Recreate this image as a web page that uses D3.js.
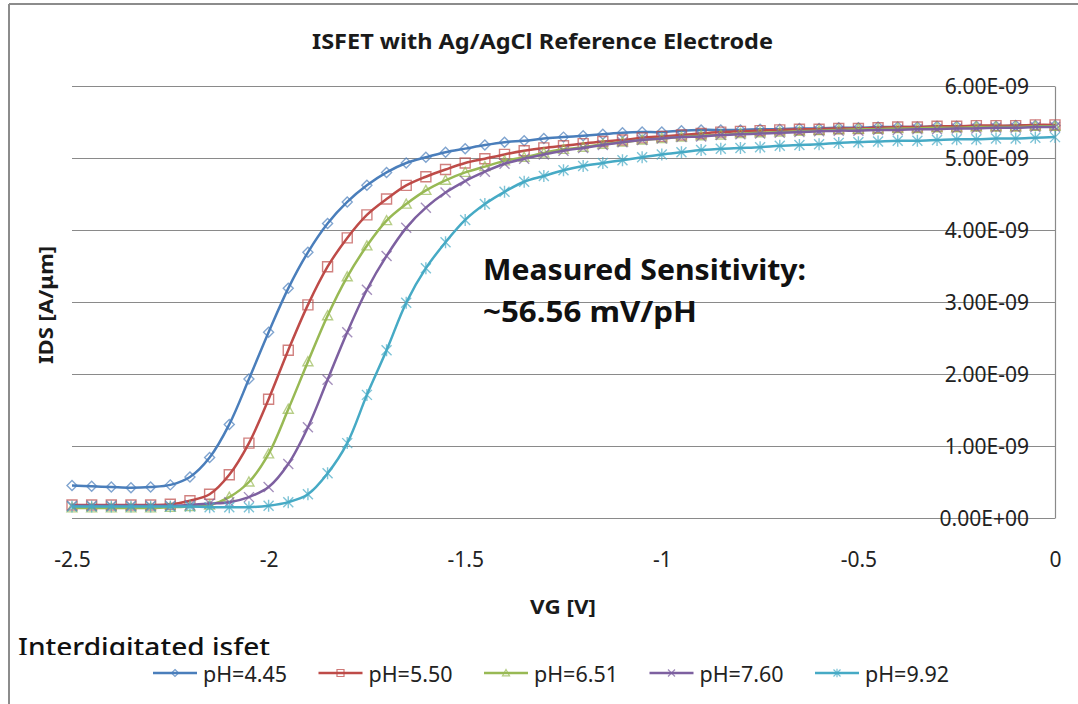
<!DOCTYPE html>
<html>
<head>
<meta charset="utf-8">
<script src="https://cdn.jsdelivr.net/npm/d3@7"></script>
<style>
  html, body { margin: 0; padding: 0; background: #fff; }
  svg { display: block; font-family: "Noto Sans", "Open Sans", sans-serif; }
</style>
</head>
<body>
<svg id="chart" width="1078" height="704"></svg>
<script>
// ---------- data ----------
const vgStart = -2.5, vgStep = 0.05;
const seriesNames = ["pH=4.45", "pH=5.50", "pH=6.51", "pH=7.60", "pH=9.92"];
const seriesColors = ["#4A7EBB", "#BE4B48", "#98B954", "#7D60A0", "#46AAC5"];
const seriesMarkers = ["diamond", "square", "triangle", "x", "star"];

// IDS values in units of 1e-9 A/um, VG from -2.5 to 0 in 0.05 V steps
const ids_pH445 = [0.45,0.44,0.43,0.42,0.43,0.46,0.57,0.84,1.30,1.93,2.58,3.19,3.69,4.09,4.39,4.62,4.80,4.93,5.01,5.08,5.13,5.18,5.22,5.24,5.27,5.29,5.31,5.33,5.35,5.36,5.36,5.38,5.39,5.39,5.39,5.40,5.40,5.41,5.41,5.42,5.42,5.43,5.43,5.43,5.44,5.44,5.44,5.44,5.45,5.45,5.45];
const ids_pH550 = [0.18,0.18,0.18,0.18,0.18,0.19,0.24,0.33,0.60,1.04,1.65,2.33,2.96,3.49,3.89,4.21,4.43,4.62,4.74,4.84,4.93,4.99,5.05,5.10,5.14,5.17,5.20,5.23,5.25,5.28,5.30,5.32,5.34,5.36,5.37,5.38,5.39,5.40,5.40,5.41,5.41,5.42,5.43,5.43,5.44,5.44,5.45,5.45,5.45,5.46,5.46];
const ids_pH651 = [0.14,0.14,0.14,0.14,0.14,0.15,0.16,0.18,0.29,0.50,0.89,1.51,2.17,2.81,3.35,3.78,4.13,4.36,4.55,4.69,4.80,4.88,4.96,5.01,5.07,5.12,5.15,5.19,5.22,5.25,5.27,5.29,5.31,5.32,5.34,5.35,5.36,5.37,5.38,5.39,5.40,5.40,5.41,5.41,5.42,5.42,5.43,5.43,5.43,5.44,5.44];
const ids_pH760 = [0.17,0.17,0.17,0.17,0.17,0.17,0.18,0.20,0.22,0.29,0.43,0.75,1.26,1.92,2.58,3.17,3.64,4.03,4.31,4.52,4.68,4.81,4.92,4.99,5.05,5.10,5.14,5.18,5.22,5.25,5.27,5.29,5.30,5.32,5.33,5.34,5.35,5.36,5.37,5.38,5.38,5.39,5.39,5.40,5.40,5.41,5.41,5.42,5.42,5.43,5.43];
const ids_pH992 = [0.16,0.16,0.16,0.16,0.16,0.16,0.16,0.15,0.15,0.15,0.17,0.22,0.33,0.62,1.04,1.71,2.33,2.99,3.47,3.83,4.14,4.36,4.53,4.67,4.75,4.83,4.89,4.93,4.97,5.01,5.05,5.08,5.11,5.13,5.14,5.15,5.17,5.18,5.19,5.21,5.22,5.23,5.24,5.24,5.25,5.26,5.26,5.27,5.27,5.28,5.29];
const allSeries = [ids_pH445, ids_pH550, ids_pH651, ids_pH760, ids_pH992];

const xTickValues = [-2.5, -2, -1.5, -1, -0.5, 0];
const xTickLabels = ["-2.5", "-2", "-1.5", "-1", "-0.5", "0"];
const yTickValues = [0, 1e-9, 2e-9, 3e-9, 4e-9, 5e-9, 6e-9];
const yTickLabels = ["0.00E+00", "1.00E-09", "2.00E-09", "3.00E-09", "4.00E-09", "5.00E-09", "6.00E-09"];

const titleText = "ISFET with Ag/AgCl Reference Electrode";
const xTitle = "VG [V]";
const yTitle = "IDS [A/\u03bcm]";
const noteLine1 = "Measured Sensitivity:";
const noteLine2 = "~56.56 mV/pH";
const extraLabel = "Interdigitated isfet";

// ---------- layout ----------
const svg = d3.select("#chart");
const plot = { left: 72, right: 1055, top: 86, bottom: 518 };
const x = d3.scaleLinear().domain([-2.5, 0]).range([plot.left, plot.right]);
const y = d3.scaleLinear().domain([0, 6e-9]).range([plot.bottom, plot.top]);
const gridColor = "#8a8a8a";

// chart border (top and left visible)
svg.append("line").attr("x1", 9).attr("x2", 1078).attr("y1", 4).attr("y2", 4)
  .attr("stroke", "#8c8c8c").attr("stroke-width", 2);
svg.append("line").attr("x1", 9).attr("x2", 9).attr("y1", 4).attr("y2", 704)
  .attr("stroke", "#8c8c8c").attr("stroke-width", 2);

// title
svg.append("text").attr("x", 312).attr("y", 49)
  .attr("font-weight", "bold").attr("font-size", 21).attr("fill", "#1a1a1a")
  .attr("textLength", 461).attr("lengthAdjust", "spacingAndGlyphs").text(titleText);

// gridlines + right axis line via axisLeft
const grid = svg.append("g").attr("transform", `translate(${plot.right},0)`)
  .call(d3.axisLeft(y).tickValues(yTickValues).tickSize(plot.right - plot.left).tickSizeOuter(0).tickFormat(""));
grid.selectAll("line").attr("stroke", gridColor).attr("stroke-width", 1.2);
grid.select(".domain").attr("stroke", gridColor).attr("stroke-width", 1.2);

// y tick labels (placed left of the axis, over the gridlines)
const yLab = svg.append("g").attr("transform", `translate(${plot.right - 26},0)`)
  .call(d3.axisLeft(y).tickValues(yTickValues).tickSize(0).tickPadding(0)
    .tickFormat((d, i) => yTickLabels[i]));
yLab.select(".domain").remove();
yLab.selectAll("text").attr("font-size", 21).attr("font-family", "'Noto Sans', sans-serif")
  .attr("fill", "#222").attr("dy", "0.36em");

// x tick labels
const xLab = svg.append("g").attr("transform", `translate(0,${plot.bottom})`)
  .call(d3.axisBottom(x).tickValues(xTickValues).tickSize(0).tickPadding(0)
    .tickFormat((d, i) => xTickLabels[i]));
xLab.select(".domain").remove();
xLab.selectAll("text").attr("font-size", 21).attr("font-family", "'Noto Sans', sans-serif")
  .attr("fill", "#222").attr("dy", 0).attr("y", 49);

// axis titles
svg.append("text").attr("x", 563).attr("y", 614).attr("text-anchor", "middle")
  .attr("font-weight", "bold").attr("font-size", 20).attr("fill", "#1a1a1a")
  .attr("textLength", 66).attr("lengthAdjust", "spacingAndGlyphs").text(xTitle);
svg.append("text").attr("transform", "translate(53,305) rotate(-90)").attr("text-anchor", "middle")
  .attr("font-weight", "bold").attr("font-size", 20).attr("fill", "#1a1a1a")
  .attr("textLength", 118).attr("lengthAdjust", "spacingAndGlyphs").text(yTitle);

// markers
function markerPath(type, s) {
  const h = s / 2;
  switch (type) {
    case "diamond": return `M0,${-h}L${h},0L0,${h}L${-h},0Z`;
    case "square": return `M${-h},${-h}H${h}V${h}H${-h}Z`;
    case "triangle": return `M0,${-h}L${h},${h * 0.8}H${-h}Z`;
    case "x": return `M${-h},${-h}L${h},${h}M${-h},${h}L${h},${-h}`;
    case "star": return `M${-h},${-h}L${h},${h}M${-h},${h}L${h},${-h}M0,${-h * 1.2}V${h * 1.2}`;
  }
}

// series
const line = d3.line()
  .x((d, i) => x(vgStart + i * vgStep))
  .y(d => y(d * 1e-9))
  .curve(d3.curveCatmullRom.alpha(0.5));

allSeries.forEach((vals, k) => {
  const g = svg.append("g");
  g.append("path").datum(vals).attr("d", line).attr("fill", "none")
    .attr("stroke", seriesColors[k]).attr("stroke-width", 2.5);
  g.selectAll("path.m").data(vals).join("path").attr("class", "m")
    .attr("transform", (d, i) => `translate(${x(vgStart + i * vgStep)},${y(d * 1e-9)})`)
    .attr("d", markerPath(seriesMarkers[k], 10))
    .attr("fill", "none").attr("stroke", seriesColors[k]).attr("stroke-opacity", 0.7)
    .attr("stroke-width", 1.4);
});

// annotation
svg.append("text").attr("x", 483).attr("y", 280).attr("font-weight", "bold")
  .attr("font-size", 29).attr("fill", "#111")
  .attr("textLength", 323).attr("lengthAdjust", "spacingAndGlyphs").text(noteLine1);
svg.append("text").attr("x", 483).attr("y", 322).attr("font-weight", "bold")
  .attr("font-size", 29).attr("fill", "#111")
  .attr("textLength", 214).attr("lengthAdjust", "spacingAndGlyphs").text(noteLine2);

// extra label (partly covered by legend box)
svg.append("text").attr("x", 18).attr("y", 656).attr("font-size", 26)
  .attr("font-weight", 500).attr("fill", "#111")
  .attr("textLength", 252).attr("lengthAdjust", "spacingAndGlyphs").text(extraLabel);
svg.append("rect").attr("x", 10).attr("y", 655).attr("width", 1068).attr("height", 49).attr("fill", "#fff");

// legend
const legend = svg.append("g");
seriesNames.forEach((name, k) => {
  const x0 = 153 + k * 165.5, ly = 673;
  legend.append("line").attr("x1", x0).attr("x2", x0 + 44).attr("y1", ly).attr("y2", ly)
    .attr("stroke", seriesColors[k]).attr("stroke-width", 2.5);
  legend.append("path").attr("transform", `translate(${x0 + 22},${ly})`)
    .attr("d", markerPath(seriesMarkers[k], 7)).attr("fill", "none")
    .attr("stroke", seriesColors[k]).attr("stroke-opacity", 0.75).attr("stroke-width", 1.2);
  legend.append("text").attr("x", x0 + 50).attr("y", 682).attr("font-size", 21)
    .attr("fill", "#222").attr("textLength", 84).attr("lengthAdjust", "spacingAndGlyphs").text(name);
});
</script>
</body>
</html>
